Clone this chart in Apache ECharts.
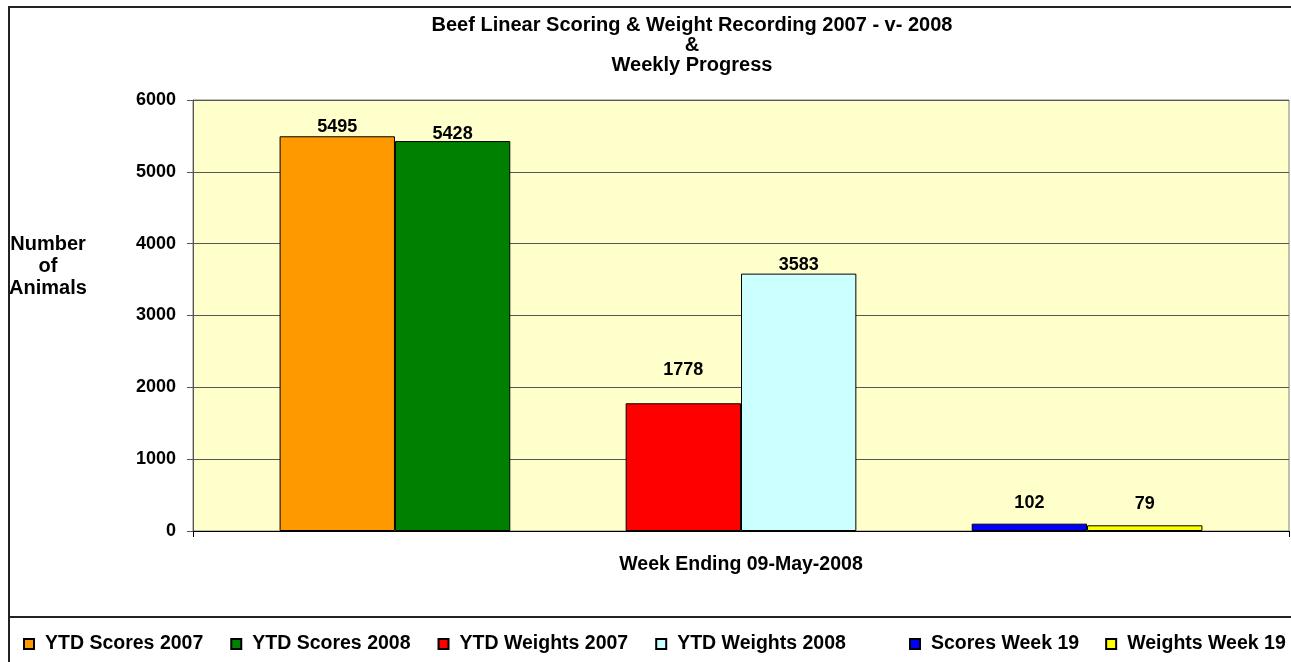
<!DOCTYPE html>
<html>
  <head>
    <meta charset="UTF-8">
    <title>Beef Linear Scoring</title>
    <script src="https://cdn.jsdelivr.net/npm/echarts@6/dist/echarts.min.js"></script>
    <style>
    * {
      margin: 0;
      padding: 0;
    }
    </style>
  </head>
  <body>
    <div id="main" style="width: 1291px;height: 662px"></div>
    <script>
// values
var categories = ['Week Ending 09-May-2008']
var ytdScores2007 = [5495]
var ytdScores2008 = [5428]
var ytdWeights2007 = [1778]
var ytdWeights2008 = [3583]
var scoresWeek19 = [102]
var weightsWeek19 = [79]
var yTicks = { min: 0, max: 6000, interval: 1000 }

var FONT = 'Liberation Sans, Arial, sans-serif'

// labels sit at different heights in the original, so distance is per bar
function bar(name, data, color, dist) {
  return {
    name: name,
    type: 'bar',
    data: data,
    itemStyle: { color: color, borderColor: '#000', borderWidth: 1 },
    label: {
      show: true,
      position: 'top',
      distance: dist,
      color: '#000',
      fontWeight: 'bold',
      fontSize: 18,
      fontFamily: FONT
    }
  }
}
// Excel left empty slots between the groups
function spacer(name) {
  return { name: name, type: 'bar', data: ['-'], silent: true, label: { show: false } }
}

var myChart = echarts.init(document.getElementById('main'))
var legendText = { color: '#000', fontWeight: 'bold', fontSize: 19.5, fontFamily: FONT, padding: [0, 0, 0, 6] }

myChart.setOption({
  backgroundColor: '#fff',
  animation: false,
  graphic: [
    { type: 'rect', shape: { x: 9, y: 7, width: 1300, height: 700 }, style: { fill: 'none', stroke: '#222', lineWidth: 2 }, z: 10 },
    { type: 'line', shape: { x1: 9, y1: 617, x2: 1291, y2: 617 }, style: { stroke: '#222', lineWidth: 2 }, z: 10 },
    {
      type: 'text', x: 692, y: 15, z: 10,
      style: {
        text: 'Beef Linear Scoring & Weight Recording 2007 - v- 2008\n&\nWeekly Progress',
        textAlign: 'center', font: 'bold 20px ' + FONT, lineHeight: 20, fill: '#000'
      }
    },
    {
      type: 'text', x: 48, y: 233, z: 10,
      style: {
        text: 'Number\nof\nAnimals',
        textAlign: 'center', font: 'bold 20px ' + FONT, lineHeight: 22, fill: '#000'
      }
    }
  ],
  legend: [{
    left: 18, top: 629, itemWidth: 10, itemHeight: 10, itemGap: 27, icon: 'rect',
    data: ['YTD Scores 2007', 'YTD Scores 2008', 'YTD Weights 2007', 'YTD Weights 2008'],
    textStyle: legendText
  }, {
    left: 904, top: 629, itemWidth: 10, itemHeight: 10, itemGap: 26, icon: 'rect',
    data: ['Scores Week 19', 'Weights Week 19'],
    textStyle: legendText
  }],
  grid: {
    left: 193, right: 2, top: 100, bottom: 131,
    show: true, backgroundColor: '#FFFFCC', borderColor: '#808080', borderWidth: 1
  },
  xAxis: {
    type: 'category',
    data: categories,
    axisLine: { lineStyle: { color: '#000', width: 1 } },
    axisTick: { show: true, length: 6, lineStyle: { color: '#000' } },
    axisLabel: { color: '#000', fontWeight: 'bold', fontSize: 19.5, fontFamily: FONT, margin: 24 }
  },
  yAxis: {
    type: 'value',
    min: yTicks.min,
    max: yTicks.max,
    interval: yTicks.interval,
    axisLine: { show: true, lineStyle: { color: '#555', width: 1 } },
    axisTick: { show: true, length: 6, lineStyle: { color: '#555' } },
    axisLabel: {
      color: '#000', fontWeight: 'bold', fontSize: 18, fontFamily: FONT, margin: 17,
      formatter: function (v) { return String(v) }
    },
    splitLine: { lineStyle: { color: '#555', width: 1 } }
  },
  series: [
    Object.assign(bar('YTD Scores 2007', ytdScores2007, '#FF9900', 0), { barGap: '0%', barCategoryGap: '15.8%' }),
    bar('YTD Scores 2008', ytdScores2008, '#008000', -2),
    spacer('gap1'),
    bar('YTD Weights 2007', ytdWeights2007, '#FF0000', 24),
    bar('YTD Weights 2008', ytdWeights2008, '#CCFFFF', 0),
    spacer('gap2'),
    bar('Scores Week 19', scoresWeek19, '#0000FF', 12),
    bar('Weights Week 19', weightsWeek19, '#FFFF00', 12)
  ]
})
    </script>
  </body>
</html>
